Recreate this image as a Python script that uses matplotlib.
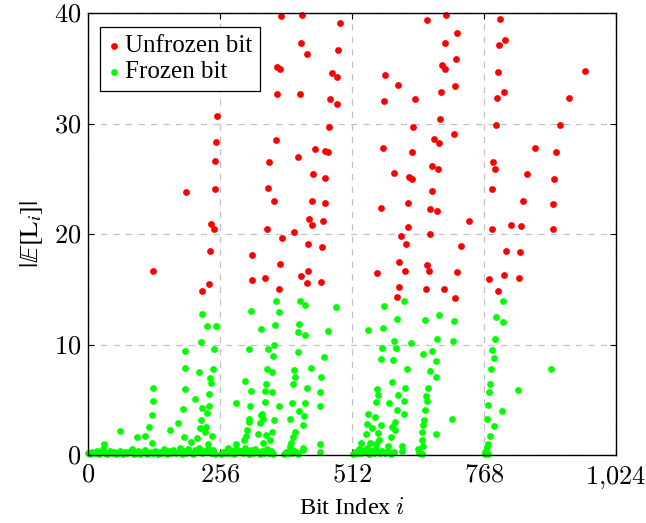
import matplotlib
matplotlib.use("Agg")
import matplotlib.pyplot as plt
from matplotlib.ticker import FixedLocator, FixedFormatter

plt.rcParams['font.family'] = ['Liberation Serif', 'DejaVu Serif']
plt.rcParams['mathtext.fontset'] = 'cm'
plt.rcParams['font.size'] = 17.5

# unfrozen (information) bits: index and |E[L_i]|
unfrozen_x = [251, 249, 247, 246, 191, 238, 244, 237, 127, 235, 222,
              319, 318, 343, 352, 408, 437, 459, 350, 360, 435, 459, 429, 455,
              434, 348, 400, 377, 427, 454, 373, 427, 413, 424, 452, 371,
              374, 415, 489, 414, 424, 485, 367, 372, 473, 483, 366, 412, 469,
              483, 467, 364, 441, 460, 466,
              657, 576, 601, 575, 634, 630, 573, 628, 672, 681, 682, 684, 686,
              692, 593, 622, 628, 668, 679, 667, 569, 620, 664, 677, 620, 607,
              664, 616, 604, 657, 662, 561, 615, 604, 655, 600,
              695, 716, 693, 713, 712, 710, 739, 723, 715, 691, 711,
              799, 808, 797, 796, 964, 806, 793, 932, 792, 916, 867, 907,
              785, 790, 852, 904, 784, 843, 902, 783, 820, 840, 901, 811, 838,
              778, 807, 836, 795]
unfrozen_y = [30.7, 28.3, 26.6, 24.1, 23.8, 20.9, 20.5, 18.5, 16.7, 15.5, 14.8,
              18.1, 15.8, 16.0, 26.5, 27.0, 25.4, 25.1, 24.2, 23.0, 23.0, 22.8, 21.4, 21.2,
              20.8, 20.5, 20.2, 19.6, 19.1, 18.8, 17.3, 16.7, 16.2, 15.6, 15.7, 15.0,
              39.7, 39.8, 39.1, 37.3, 36.3, 36.7, 35.1, 34.9, 34.6, 34.2, 32.7, 32.7, 32.2,
              31.8, 29.7, 28.5, 27.7, 27.5, 27.4,
              39.4, 34.4, 33.5, 32.0, 32.2, 29.7, 27.8, 27.4, 28.6, 28.2, 30.4, 32.9, 35.3,
              34.9, 25.5, 25.2, 25.0, 26.2, 25.9, 23.9, 22.4, 22.8, 22.3, 22.1, 20.6, 19.8,
              20.0, 19.1, 17.5, 17.2, 16.7, 16.5, 16.7, 15.2, 15.0, 14.3,
              39.8, 38.2, 37.3, 35.8, 33.4, 29.1, 21.2, 18.9, 16.6, 15.0, 14.2,
              39.5, 37.6, 37.1, 34.7, 34.8, 32.9, 32.3, 32.3, 29.9, 29.9, 27.8, 27.4,
              26.5, 25.9, 25.4, 25.0, 24.1, 23.0, 22.7, 20.5, 20.8, 20.7, 20.5, 18.5, 18.4,
              15.9, 16.3, 16.0, 14.8]

# frozen bits lifted off the floor
frozen_x = [221, 231, 249, 219, 244, 189, 189, 215, 242, 237, 127, 188, 239, 235,
            126, 208, 184, 221, 234, 124, 219, 231, 175, 119, 159, 217, 229, 62,
            95, 111, 186, 200, 211, 228, 240, 31, 124, 233,
            316, 336, 312, 304, 317, 288, 315, 337, 312, 334, 312, 309, 306, 330,
            288, 302, 272,
            365, 411, 422, 481, 370, 363, 410, 407, 421, 466, 361, 350, 407, 359,
            458, 347, 358, 399, 401, 433, 453, 346, 398, 343, 357, 425, 450, 344,
            396, 421, 450, 370, 410, 335, 339, 361, 392, 419, 418, 357, 401, 346,
            398, 354, 394, 450, 340, 392, 417,
            575, 613, 544, 572, 599, 593, 597, 626, 571, 568, 591, 618, 589, 560,
            614, 562, 602, 559, 584, 613, 599, 613, 544, 557, 542, 551, 568, 596,
            590, 595, 539, 563, 564, 587, 610, 529, 547, 559, 582,
            654, 681, 677, 667, 650, 676, 663, 676, 660, 655, 658, 653, 652, 649,
            676, 647, 647, 650, 642, 709, 708, 707,
            805, 791, 805, 789, 783, 788, 781, 899, 780, 778, 835, 776, 803, 774,
            787, 780, 775, 774, 772, 771]
frozen_y = [12.8, 11.7, 11.7, 10.2, 9.6, 9.4, 7.9, 7.5, 7.8, 7.0, 6.1, 6.0, 6.5, 5.5,
            4.9, 5.1, 4.2, 4.3, 4.4, 3.6, 3.2, 3.8, 2.9, 2.5, 2.3, 2.4, 2.5, 2.2,
            1.6, 1.7, 1.6, 1.2, 1.5, 2.1, 1.7, 1.0, 1.1, 1.0,
            13.0, 11.4, 9.6, 6.7, 5.8, 4.7, 4.4, 3.7, 3.3, 2.9, 3.0, 2.3, 1.7, 1.9,
            1.0, 1.4, 0.6,
            13.9, 13.9, 13.6, 13.4, 12.9, 11.8, 11.9, 11.1, 10.9, 11.2, 10.0, 9.6, 9.3, 9.0,
            8.9, 7.8, 7.5, 7.7, 7.1, 7.9, 7.1, 6.4, 6.4, 5.8, 5.7, 6.1, 5.7, 4.8,
            4.7, 4.7, 4.4, 4.4, 4.0, 3.6, 3.3, 3.2, 3.3, 3.5, 2.7, 2.1, 2.1, 1.8,
            1.6, 1.4, 1.1, 1.0, 1.1, 0.8, 0.6,
            13.5, 13.9, 11.3, 11.5, 12.3, 10.3, 9.7, 10.1, 9.7, 8.7, 8.6, 7.8, 6.6, 6.0,
            6.1, 5.4, 5.4, 4.8, 4.7, 4.9, 4.1, 3.7, 3.7, 3.4, 2.8, 2.4, 2.7, 3.0,
            2.5, 2.3, 1.9, 2.0, 1.4, 1.6, 0.8, 1.1, 1.1, 1.0, 0.8,
            12.2, 12.7, 10.5, 9.4, 9.1, 8.5, 7.6, 7.1, 6.1, 5.3, 4.9, 4.1, 3.2, 2.7,
            1.9, 2.1, 1.4, 0.8, 0.2, 12.1, 10.3, 3.3,
            13.9, 12.5, 12.0, 10.5, 9.5, 8.8, 7.8, 7.8, 6.4, 5.7, 5.9, 4.5, 4.0, 3.3,
            2.6, 1.7, 1.0, 0.7, 0.4, 0.1]

# frozen bits sitting on the floor
floor_x = [1, 5, 9, 13, 17, 21, 25, 29, 34, 38, 42, 46, 51, 55, 59, 63, 68, 72,
           76, 80, 85, 89, 93, 97, 102, 106, 110, 114, 119, 123, 127, 131, 136,
           140, 144, 148, 153, 157, 161, 165, 170, 174, 178, 182, 187, 191, 195,
           199, 204, 208, 212, 216, 221, 225, 229, 233, 238, 242, 246,
           258, 262, 266, 270, 274, 279, 283, 287, 291, 296, 300, 304, 308, 313,
           317, 321, 325, 330, 334, 338, 342, 347, 351, 355, 359,
           380, 384, 388, 392, 396, 400, 404, 408, 417, 450,
           514, 518, 522, 526, 530, 534, 538, 542, 546, 550, 554, 558, 562, 566,
           570, 576, 582, 588, 594, 609, 641, 644, 648, 770, 772, 775]
floor_y = [0.2, 0.1, 0.3, 0.15, 0.4, 0.1, 0.25, 0.5, 0.2, 0.1, 0.35, 0.15, 0.3, 0.05,
           0.2, 0.4, 0.1, 0.25, 0.15, 0.3, 0.5, 0.1, 0.2, 0.35, 0.1, 0.25, 0.45, 0.1,
           0.2, 0.3, 0.15, 0.4, 0.1, 0.3, 0.2, 0.55, 0.1, 0.35, 0.2, 0.45, 0.15, 0.3,
           0.6, 0.1, 0.4, 0.2, 0.5, 0.3, 0.1, 0.45, 0.25, 0.6, 0.15, 0.4, 0.3, 0.55,
           0.2, 0.45, 0.1,
           0.1, 0.3, 0.2, 0.45, 0.15, 0.35, 0.1, 0.5, 0.25, 0.4, 0.15, 0.6, 0.3, 0.1,
           0.45, 0.2, 0.55, 0.3, 0.1, 0.4, 0.2, 0.5, 0.15, 0.35, 0.1,
           0.1, 0.3, 0.2, 0.5, 0.15, 0.4, 0.25, 0.1, 0.45, 0.3,
           0.1, 0.3, 0.2, 0.5, 0.15, 0.4, 0.25, 0.6, 0.1, 0.35, 0.2, 0.5, 0.3, 0.15,
           0.4, 0.2, 0.35, 0.1, 0.3, 0.4, 0.5, 0.2, 0.1, 0.3, 0.2, 0.1]

x_ticks = [0, 256, 512, 768, 1024]
x_tick_labels = ['$0$', '$256$', '$512$', '$768$', '$1{,}024$']
y_ticks = [0, 10, 20, 30, 40]
y_tick_labels = ['$0$', '$10$', '$20$', '$30$', '$40$']

fig = plt.figure(figsize=(6.46, 5.23), dpi=100)
ax = fig.add_axes([0.136, 0.130, 0.8175, 0.845])

dot = 24
ax.scatter(floor_x, floor_y, s=dot, color='#00ff00', linewidths=0, zorder=3, clip_on=False)
ax.scatter(frozen_x, frozen_y, s=dot, color='#00ff00', linewidths=0, zorder=3,
           label='Frozen bit', clip_on=False)
ax.scatter(unfrozen_x, unfrozen_y, s=dot, color='#ff0000', linewidths=0, zorder=4,
           label='Unfrozen bit', clip_on=False)

ax.set_xlim(0, 1024)
ax.set_ylim(0, 40)
ax.xaxis.set_major_locator(FixedLocator(x_ticks))
ax.xaxis.set_major_formatter(FixedFormatter(x_tick_labels))
ax.yaxis.set_major_locator(FixedLocator(y_ticks))
ax.yaxis.set_major_formatter(FixedFormatter(y_tick_labels))
ax.tick_params(direction='in', top=True, right=True, length=4, width=0.8,
               labelsize=19)
ax.tick_params(axis='x', pad=7)
ax.tick_params(axis='y', pad=5)
for sp in ax.spines.values():
    sp.set_linewidth(1.0)
    sp.set_zorder(5)
ax.grid(True, color='#c0c0c0', linestyle=(0, (5, 5)), linewidth=0.9)
ax.set_axisbelow(True)

ax.set_xlabel('Bit Index $i$', labelpad=5)
ax.set_ylabel(r'$|\mathbb{E}[\mathrm{L}_i]|$', labelpad=6, fontsize=19,
              math_fontfamily='stix')

handles, labels = ax.get_legend_handles_labels()
leg = ax.legend(handles[::-1], labels[::-1], loc='upper left',
                bbox_to_anchor=(0.023, 0.968), borderaxespad=0, fancybox=False,
                edgecolor='black', framealpha=1, handlelength=0.5,
                handletextpad=0.2, borderpad=0.3, labelspacing=0.15,
                fontsize=18)
leg.get_frame().set_linewidth(0.9)
leg.set_zorder(6)

fig.savefig('out.png', dpi=100)
